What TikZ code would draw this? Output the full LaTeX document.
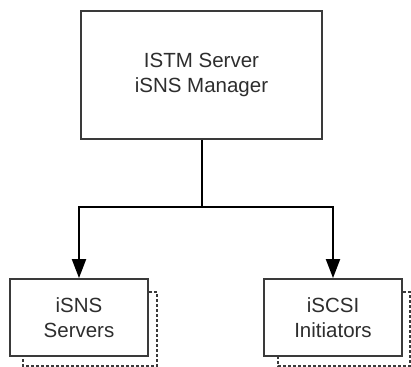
\documentclass[tikz,border=0pt]{standalone}
\usepackage{fontspec}
\setmainfont{Liberation Sans}
\usetikzlibrary{arrows.meta}
\definecolor{linegray}{HTML}{3A3A3A}
\definecolor{textgray}{HTML}{2E2E2E}
\tikzset{
  box/.style={draw=linegray, line width=1.8pt, fill=white, align=center,
    text=textgray, font=\fontsize{20.5pt}{25pt}\selectfont, inner sep=0pt},
  bigbox/.style={box, minimum width=241pt, minimum height=128pt},
  smallbox/.style={box, minimum width=138pt, minimum height=77pt},
  link/.style={draw=black, line width=2pt},
  arrowlink/.style={link, -{Triangle[length=19pt,width=14pt]}},
  shadowline/.style={draw=linegray, line width=1.5pt, dash pattern=on 3pt off 2pt}
}
\begin{document}
\begin{tikzpicture}[x=1pt,y=1pt]
  \useasboundingbox (0,0) rectangle (411,366);
  % boxes
  \node[bigbox] (mgr) at (201.5,291) {ISTM Server\\iSNS Manager};
  \node[smallbox] (srv) at (79,48.5) {iSNS\\Servers};
  \node[smallbox] (ini) at (333,48.5) {iSCSI\\Initiators};
  % dashed stacked outlines behind the lower boxes
  \draw[shadowline] ([yshift=-14pt]srv.north east) -- ++(8pt,0)
    |- ([xshift=14pt,yshift=-9pt]srv.south west) -- ([xshift=14pt]srv.south west);
  \draw[shadowline] ([yshift=-14pt]ini.north east) -- ++(7pt,0)
    |- ([xshift=15pt,yshift=-9pt]ini.south west) -- ([xshift=15pt]ini.south west);
  % connectors
  \coordinate (split) at ([yshift=-67pt]mgr.south);
  \draw[link] (mgr.south) -- (split);
  \draw[arrowlink] (split) -| (srv.north);
  \draw[arrowlink] (split) -| (ini.north);
\end{tikzpicture}
\end{document}
